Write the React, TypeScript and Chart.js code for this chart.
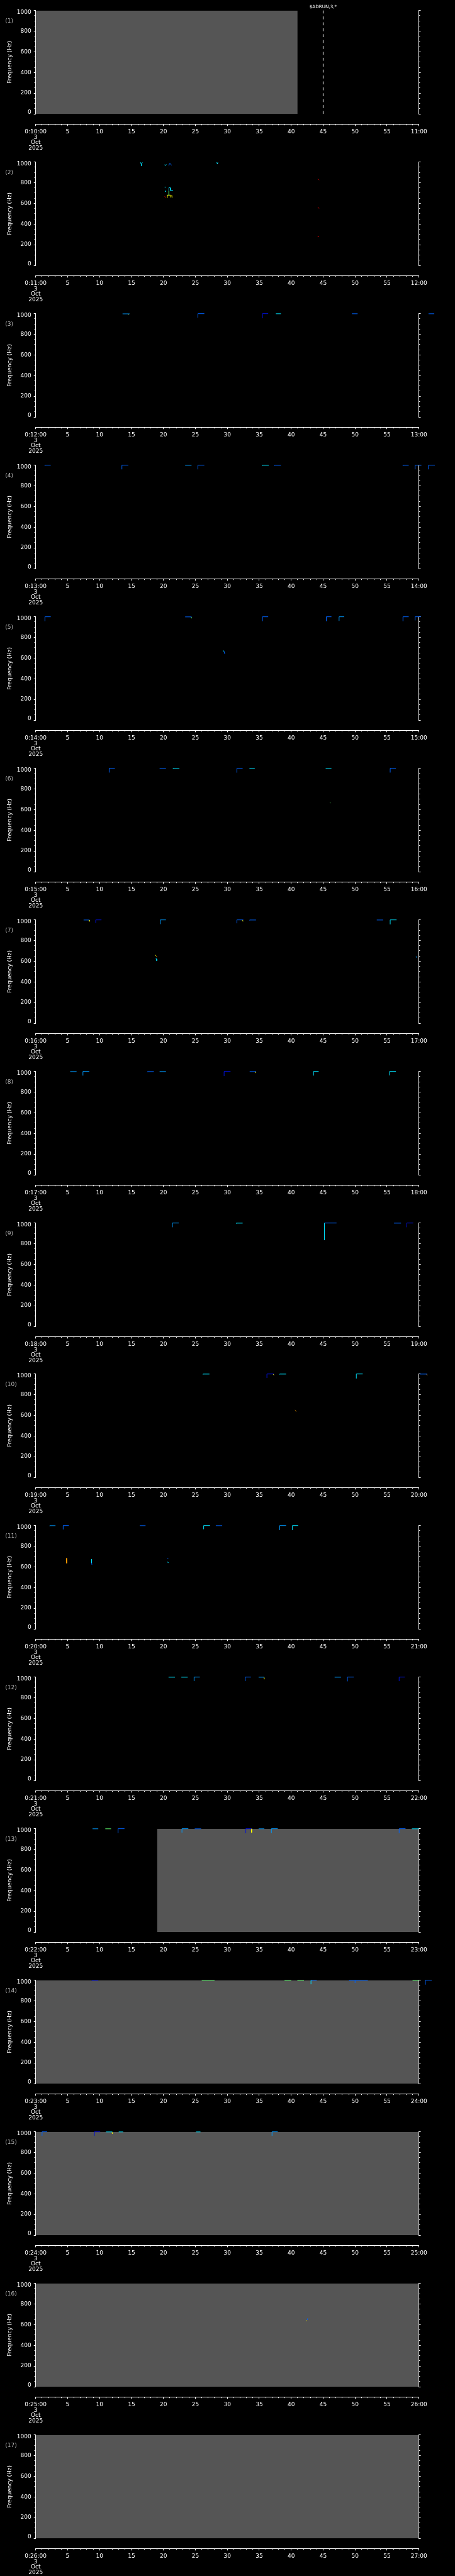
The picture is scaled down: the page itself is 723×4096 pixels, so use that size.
import React, { useEffect, useRef } from 'react';
import { Chart, registerables } from 'chart.js';

Chart.register(...registerables);

// ---------------- data ----------------
const START_MINUTES = [10, 11, 12, 13, 14, 15, 16, 17, 18, 19, 20, 21, 22, 23, 24, 25, 26];
const DATE_LINES = ['3', 'Oct', '2025'];
const Y_MIN = 0;
const Y_MAX = 1000;
const Y_STEP = 50;
const Y_LABEL_STEP = 200;
const X_MAX = 60;
const X_LABEL_STEP = 5;
const Y_TITLE = 'Frequency (Hz)';

// seconds without data (grey) per panel
const NO_DATA_SPANS: (number[] | null)[] = [
  [0, 41], null, null, null, null, null, null, null, null, null, null, null,
  [19, 60], [0, 60], [0, 60], [0, 60], [0, 60],
];

const EVENT_MARKERS = [{ panel: 1, t: 45, label: '$ADRUN,3,*' }];

// colours of the spectrogram colour table
const CB = '#0064ff';
const CD = '#0010dc';
const CL = '#009cff';
const CC = '#00e4ff';
const CG = '#60ff70';
const CY = '#ffff00';
const CO = '#ffa000';
const CR = '#e00000';
const GREY = '#555555';

// traces: [colour, [second, Hz], ...]
const P01: any[] = [];
const P02: any[] = [
  [CC, [16.4, 997], [16.55, 978], [16.7, 997]],
  [CC, [16.55, 978], [16.55, 964]],
  [CC, [20.2, 975], [20.3, 966], [20.45, 978]],
  [CB, [20.85, 966], [20.95, 986], [21.1, 984], [21.27, 969]],
  [CC, [28.35, 997], [28.44, 982], [28.52, 997]],
  [CR, [28.44, 990], [28.48, 985]],
  [CC, [20.2, 758], [20.4, 758]],
  [CC, [20.27, 722], [20.3, 712]],
  [CC, [20.86, 719], [20.86, 752], [21.05, 752], [21.1, 725], [21.5, 725]],
  [CG, [20.86, 719], [20.86, 677]],
  [CY, [20.6, 653], [20.6, 680], [21.1, 680], [21.15, 657]],
  [CY, [21.3, 680], [21.35, 655]],
  [CR, [20.2, 668], [20.35, 655]],
  [CR, [44.2, 836], [44.35, 826]],
  [CR, [44.2, 563], [44.35, 551]],
  [CR, [44.15, 278], [44.35, 278]],
];
const P03: any[] = [
  [CL, [13.6, 998], [14.7, 998]],
  [CY, [14.5, 998], [14.55, 990]],
  [CB, [25.4, 960], [25.4, 1000], [26.4, 1000]],
  [CD, [35.5, 955], [35.5, 1000], [36.4, 1000]],
  [CC, [37.6, 999], [38.4, 999]],
  [CB, [49.5, 999], [50.4, 999]],
  [CB, [61.5, 999], [62.4, 999]],
];
const P04: any[] = [
  [CB, [1.45, 994], [1.45, 1000], [2.36, 1000]],
  [CB, [13.5, 960], [13.5, 1000], [14.5, 1000]],
  [CL, [23.4, 999], [24.4, 999]],
  [CB, [25.4, 960], [25.4, 1000], [26.4, 1000]],
  [CC, [35.5, 994], [35.5, 999], [36.5, 999]],
  [CB, [37.4, 994], [37.4, 999], [38.4, 999]],
  [CB, [57.5, 994], [57.5, 999], [58.4, 999]],
  [CB, [59.4, 960], [59.4, 1000], [60.4, 1000]],
  [CB, [61.5, 960], [61.5, 1000], [62.5, 1000]],
];
const P05: any[] = [
  [CB, [1.45, 957], [1.45, 1000], [2.36, 1000]],
  [CB, [23.4, 999], [24.4, 999]],
  [CG, [24.35, 999], [24.4, 985]],
  [CB, [35.5, 957], [35.5, 1000], [36.4, 1000]],
  [CB, [45.5, 957], [45.5, 1000], [46.3, 1000]],
  [CL, [47.5, 960], [47.5, 1000], [48.3, 1000]],
  [CB, [57.5, 957], [57.5, 1000], [58.4, 1000]],
  [CB, [59.4, 965], [59.4, 1000], [60.3, 1000]],
  [CC, [29.3, 672], [29.5, 666]],
  [CB, [29.5, 666], [29.6, 640]],
];
const P06: any[] = [
  [CB, [11.5, 959], [11.5, 1000], [12.4, 1000]],
  [CB, [19.4, 999], [20.4, 999]],
  [CC, [21.5, 995], [21.5, 999], [22.5, 999]],
  [CB, [31.5, 958], [31.5, 1000], [32.4, 1000]],
  [CC, [33.5, 995], [33.5, 999], [34.3, 999]],
  [CC, [45.4, 999], [46.3, 999]],
  [CB, [55.5, 959], [55.5, 1000], [56.4, 1000]],
  [CG, [46.05, 668], [46.15, 664]],
];
const P07: any[] = [
  [CB, [7.5, 999], [8.4, 999]],
  [CY, [8.35, 999], [8.4, 985]],
  [CD, [9.4, 970], [9.4, 1000], [10.3, 1000]],
  [CL, [19.5, 959], [19.5, 1000], [20.4, 1000]],
  [CB, [31.5, 967], [31.5, 1000], [32.5, 1000]],
  [CY, [32.4, 999], [32.45, 985]],
  [CB, [33.5, 995], [33.5, 999], [34.5, 999]],
  [CB, [53.4, 999], [54.4, 999]],
  [CC, [55.5, 957], [55.5, 1000], [56.5, 1000]],
  [CY, [18.7, 662], [18.9, 648]],
  [CR, [18.9, 648], [19.0, 648]],
  [CC, [18.8, 624], [18.95, 622], [18.95, 604]],
  [CL, [59.55, 647], [59.65, 634]],
];
const P08: any[] = [
  [CL, [5.4, 999], [6.4, 999]],
  [CL, [7.4, 960], [7.4, 1000], [8.4, 1000]],
  [CB, [17.5, 995], [17.5, 999], [18.5, 999]],
  [CL, [19.4, 999], [20.4, 999]],
  [CD, [29.5, 955], [29.5, 1000], [30.5, 1000]],
  [CB, [33.5, 999], [34.5, 999]],
  [CY, [34.4, 999], [34.45, 985]],
  [CC, [43.5, 960], [43.5, 1000], [44.3, 1000]],
  [CC, [55.4, 962], [55.4, 1000], [56.4, 1000]],
];
const P09: any[] = [
  [CL, [21.4, 959], [21.4, 1000], [22.4, 1000]],
  [CC, [31.4, 995], [31.4, 999], [32.4, 999]],
  [CC, [45.2, 834], [45.2, 1000]],
  [CB, [45.2, 1000], [47.1, 1000]],
  [CB, [56.1, 999], [57.2, 999]],
  [CD, [58.1, 959], [58.1, 1000], [59.1, 1000]],
];
const P10: any[] = [
  [CC, [26.2, 995], [26.2, 999], [27.2, 999]],
  [CD, [36.2, 962], [36.2, 1000], [37.3, 1000]],
  [CY, [37.2, 999], [37.3, 988]],
  [CC, [38.2, 995], [38.2, 999], [39.2, 999]],
  [CC, [50.2, 956], [50.2, 1000], [51.2, 1000]],
  [CB, [60.1, 999], [61.3, 999]],
  [CO, [61.2, 999], [61.3, 988]],
  [CO, [40.6, 649], [40.8, 637]],
];
const P11: any[] = [
  [CL, [2.2, 995], [2.2, 999], [3.1, 999]],
  [CB, [4.3, 962], [4.3, 1000], [5.2, 1000]],
  [CB, [16.3, 999], [17.2, 999]],
  [CC, [26.3, 964], [26.3, 1000], [27.3, 1000]],
  [CB, [28.2, 999], [29.2, 999]],
  [CL, [38.2, 956], [38.2, 1000], [39.2, 1000]],
  [CC, [40.2, 956], [40.2, 1000], [41.1, 1000]],
  [CO, [4.8, 684], [4.85, 634]],
  [CC, [8.75, 674], [8.75, 640]],
  [CB, [8.75, 640], [8.8, 621]],
  [CB, [20.6, 684], [20.75, 680]],
  [CC, [20.6, 648], [20.8, 640]],
];
const P12: any[] = [
  [CC, [20.8, 999], [21.8, 999]],
  [CC, [22.8, 999], [23.8, 999]],
  [CL, [24.8, 962], [24.8, 1000], [25.7, 1000]],
  [CB, [32.8, 962], [32.8, 1000], [33.7, 1000]],
  [CL, [34.9, 999], [35.8, 999]],
  [CY, [35.75, 999], [35.8, 979]],
  [CL, [46.8, 999], [47.8, 999]],
  [CB, [48.8, 959], [48.8, 1000], [49.8, 1000]],
  [CD, [56.9, 962], [56.9, 1000], [57.8, 1000]],
];
const P13: any[] = [
  [CL, [8.9, 999], [9.8, 999]],
  [CG, [10.9, 999], [11.8, 999]],
  [CB, [12.9, 957], [12.9, 1000], [13.9, 1000]],
  [CL, [22.9, 962], [22.9, 1000], [23.9, 1000]],
  [CB, [24.9, 999], [25.9, 999]],
  [CD, [32.9, 956], [32.9, 1000], [33.8, 1000]],
  [CY, [33.8, 1000], [33.8, 962]],
  [CL, [34.9, 999], [35.8, 999]],
  [CL, [36.9, 957], [36.9, 1000], [37.9, 1000]],
  [CB, [56.9, 957], [56.9, 1000], [57.9, 1000]],
  [CC, [58.9, 999], [60, 999]],
];
const P14: any[] = [
  [CD, [8.8, 995], [8.8, 999], [9.8, 999]],
  [CG, [26.0, 999], [28.0, 999]],
  [CG, [39.0, 995], [39.0, 999], [40.0, 999]],
  [CG, [41.0, 995], [41.0, 999], [42.0, 999]],
  [CC, [43.1, 961], [43.1, 1000]],
  [CB, [43.1, 1000], [44.0, 1000]],
  [CB, [49.1, 993], [49.1, 999], [52.0, 999]],
  [CB, [50.0, 974], [50.0, 999]],
  [CG, [59.0, 999], [60, 999]],
  [CB, [61.0, 957], [61.0, 1000], [62.0, 1000]],
];
const P15: any[] = [
  [CB, [1.0, 961], [1.0, 1000], [1.8, 1000]],
  [CD, [9.2, 961], [9.2, 1000], [10.1, 1000]],
  [CC, [11.0, 999], [12.0, 999]],
  [CY, [11.95, 999], [12.0, 980]],
  [CC, [13.0, 999], [13.7, 999]],
  [CC, [25.1, 999], [25.8, 999]],
  [CL, [37.0, 961], [37.0, 1000], [37.9, 1000]],
];
const P16: any[] = [
  [CY, [42.4, 640], [42.5, 637]],
  [CB, [42.5, 645], [42.6, 662]],
];
const P17: any[] = [];

const PANEL_MARKS = [P01, P02, P03, P04, P05, P06, P07, P08, P09, P10, P11, P12, P13, P14, P15, P16, P17];

// ---------------- layout (scaled 0.705) ----------------
const W = 723;
const TOTAL_H = 4096;
const N = START_MINUTES.length;
const PANEL_H = 241;
const FONT = 'DejaVu Sans';
const PLOT_LEFT = 56.7;
const PLOT_RIGHT = 665.7;
const PLOT_TOP = 16.7;
const PLOT_BOTTOM = 181;
const RIGHT_AXIS_W = 6;

function buildConfig(i: number): any {
  const mm = START_MINUTES[i];
  const datasets: any[] = [];
  const span = NO_DATA_SPANS[i];
  if (span) {
    datasets.push({
      data: [{ x: span[0], y: Y_MAX }, { x: span[1], y: Y_MAX }],
      fill: 'origin',
      backgroundColor: GREY,
      borderColor: 'rgba(0,0,0,0)',
      borderWidth: 0,
      pointRadius: 0,
      order: 10,
    });
  }
  for (const mk of PANEL_MARKS[i]) {
    const [color, ...pts] = mk;
    datasets.push({
      data: pts.map((p: number[]) => ({ x: p[0], y: p[1] })),
      borderColor: color,
      borderWidth: 1,
      pointRadius: 0,
      fill: false,
      tension: 0,
      clip: false,
      order: 1,
    });
  }
  const marker = EVENT_MARKERS.find((e) => e.panel === i + 1);
  if (marker) {
    datasets.push({
      data: [{ x: marker.t, y: Y_MAX }, { x: marker.t, y: Y_MIN }],
      borderColor: '#ffffff',
      borderWidth: 1,
      borderDash: [4.7, 4.7],
      pointRadius: 0,
      fill: false,
      clip: false,
      order: 2,
    });
  }

  const tickFont = { family: FONT, size: 9, lineHeight: '8.46px' };

  const decor = {
    id: 'decor' + i,
    beforeDraw(chart: any) {
      const ctx = chart.ctx;
      ctx.save();
      ctx.fillStyle = '#000';
      ctx.fillRect(0, 0, chart.width, chart.height);
      ctx.restore();
    },
    afterDraw(chart: any) {
      const ctx = chart.ctx;
      ctx.save();
      ctx.font = `9px "${FONT}"`;
      ctx.fillStyle = '#b8b8b8';
      ctx.textBaseline = 'middle';
      ctx.textAlign = 'left';
      ctx.fillText(`(${i + 1})`, 8.3, 33.5);
      if (marker) {
        const x = chart.scales.x.getPixelForValue(marker.t);
        ctx.font = `7.2px "${FONT}"`;
        ctx.fillStyle = '#ffffff';
        ctx.textAlign = 'center';
        ctx.fillText(marker.label, x, 11);
      }
      ctx.restore();
    },
  };

  return {
    type: 'line',
    data: { datasets },
    plugins: [decor],
    options: {
      animation: false,
      responsive: false,
      maintainAspectRatio: false,
      devicePixelRatio: 1,
      events: [],
      layout: {
        padding: {
          left: 0,
          right: W - PLOT_RIGHT - RIGHT_AXIS_W,
          top: PLOT_TOP,
          bottom: PANEL_H - PLOT_BOTTOM,
        },
      },
      plugins: {
        legend: { display: false },
        tooltip: { enabled: false },
        title: { display: false },
      },
      scales: {
        x: {
          type: 'linear',
          axis: 'x',
          position: { y: -101 },
          afterDataLimits(s: any) {
            s.min = 0;
            s.max = X_MAX;
          },
          ticks: {
            stepSize: 1,
            autoSkip: false,
            maxRotation: 0,
            minRotation: 0,
            padding: 6,
            color: '#ffffff',
            font: tickFont,
            callback(v: any) {
              const n = Math.round(Number(v));
              if (n === 0) return [`0:${mm}:00`, ...DATE_LINES];
              if (n === X_MAX) return `${mm + 1}:00`;
              return n % X_LABEL_STEP === 0 ? String(n) : '';
            },
          },
          grid: {
            drawOnChartArea: false,
            color: '#ffffff',
            tickLength: 2.3,
            tickWidth: 1,
            tickBorderDash: (c: any) =>
              Math.round(c.tick?.value ?? 0) % X_LABEL_STEP === 0 ? [] : [1.2, 20],
          },
          border: { display: true, color: '#ffffff', width: 1 },
        },
        y: {
          type: 'linear',
          axis: 'y',
          position: 'left',
          min: Y_MIN,
          max: Y_MAX,
          afterFit(s: any) {
            s.width = PLOT_LEFT;
          },
          ticks: {
            stepSize: Y_STEP,
            autoSkip: false,
            padding: 4,
            color: '#ffffff',
            font: { family: FONT, size: 9, lineHeight: '5.6px' },
            callback(v: any) {
              const n = Math.round(Number(v));
              if (n === Y_MAX) return ['', String(n)];
              if (n === Y_MIN) return [String(n), ''];
              return n % Y_LABEL_STEP === 0 ? String(n) : '';
            },
          },
          title: {
            display: true,
            text: Y_TITLE,
            color: '#ffffff',
            font: { family: FONT, size: 9, lineHeight: 1.2 },
            padding: { top: 10, bottom: 0 },
          },
          grid: {
            drawOnChartArea: false,
            color: '#ffffff',
            tickLength: 3,
            tickWidth: 1,
            tickBorderDash: (c: any) =>
              Math.round(c.tick?.value ?? 0) % Y_LABEL_STEP === 0 ? [] : [1.9, 20],
            tickBorderDashOffset: (c: any) =>
              Math.round(c.tick?.value ?? 0) % Y_LABEL_STEP === 0 ? 0 : 21.0,
          },
          border: { display: true, color: '#ffffff', width: 1 },
        },
        y2: {
          type: 'linear',
          axis: 'y',
          position: 'right',
          min: Y_MIN,
          max: Y_MAX,
          afterFit(s: any) {
            s.width = RIGHT_AXIS_W;
          },
          ticks: { stepSize: Y_STEP, autoSkip: false, display: false },
          grid: {
            drawOnChartArea: false,
            color: '#ffffff',
            tickLength: 2.8,
            tickWidth: 1,
            tickBorderDash: (c: any) =>
              Math.round(c.tick?.value ?? 0) % Y_LABEL_STEP === 0 ? [] : [1.4, 20],
          },
          border: { display: true, color: '#ffffff', width: 1 },
        },
      },
    },
  };
}

function Panel({ idx }: { idx: number }) {
  const ref = useRef<HTMLCanvasElement | null>(null);
  useEffect(() => {
    if (!ref.current) return;
    const chart = new Chart(ref.current, buildConfig(idx));
    return () => chart.destroy();
  }, [idx]);
  return (
    <canvas
      ref={ref}
      width={W}
      height={PANEL_H}
      style={{ display: 'block', width: W, height: PANEL_H }}
    />
  );
}

export default function App() {
  return (
    <div style={{ position: 'relative', width: W, height: TOTAL_H, background: '#000', overflow: 'hidden' }}>
      <style>{'html,body{margin:0;padding:0;background:#000;}'}</style>
      {START_MINUTES.map((m, i) => (
        <div
          key={m}
          style={{ position: 'absolute', left: 0, top: Math.round((i * TOTAL_H) / N), width: W, height: PANEL_H }}
        >
          <Panel idx={i} />
        </div>
      ))}
    </div>
  );
}
